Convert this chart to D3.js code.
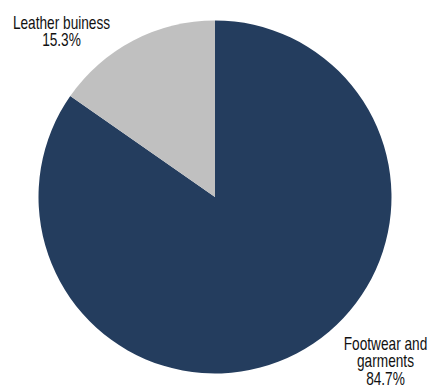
<!DOCTYPE html>
<html>
<head>
<meta charset="utf-8">
<script src="https://cdn.jsdelivr.net/npm/d3@7"></script>
<style>
  html, body { margin: 0; padding: 0; background: #fff; }
  text { font-family: "Liberation Sans Narrow", "Liberation Sans", Arial, sans-serif; font-size: 18px; fill: #111; }
</style>
</head>
<body>
<svg id="chart" width="430" height="390"></svg>
<script>
var categories = ["Footwear and garments", "Leather buiness"];
var shares = [84.7, 15.3];
var labelLines = [["Footwear and", "garments", "84.7%"], ["Leather buiness", "15.3%"]];
var colors = ["#243d5e", "#c0c0c0"];

var svg = d3.select("#chart");
var cx = 215, cy = 197, r = 176.5;

var pie = d3.pie().sort(null).value(function(d) { return d; });
var arc = d3.arc().innerRadius(0).outerRadius(r);

var g = svg.append("g").attr("transform", "translate(" + cx + "," + cy + ")");
g.selectAll("path")
  .data(pie(shares))
  .enter()
  .append("path")
  .attr("d", arc)
  .attr("fill", function(d, i) { return colors[i]; });

// label anchors (centre x, first baseline y); text squeezed to look narrow
var labelPos = [{x: 385.5, y: 350}, {x: 61.5, y: 29}];
var lineGap = 17.3;
var squeeze = 0.76;

labelLines.forEach(function(lines, i) {
  var t = svg.append("text")
    .attr("text-anchor", "middle")
    .attr("transform", "translate(" + labelPos[i].x + "," + labelPos[i].y + ") scale(" + squeeze + ",1)");
  lines.forEach(function(s, j) {
    t.append("tspan")
      .attr("x", 0)
      .attr("dy", j === 0 ? 0 : lineGap)
      .text(s);
  });
});
</script>
</body>
</html>
